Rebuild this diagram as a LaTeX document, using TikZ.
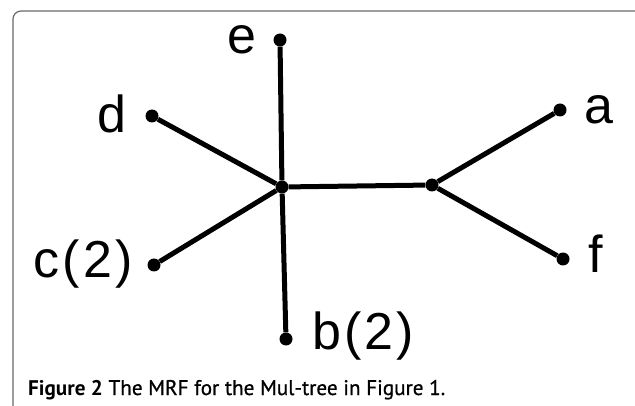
\documentclass[tikz,border=0pt]{standalone}
\usepackage{fontspec}
\usepackage{graphicx}
\setmainfont{Liberation Sans}
\newfontfamily\lblfont[LetterSpace=6]{Liberation Sans}
\newfontfamily\capfont{PT Sans}
\newfontfamily\capsemi[FakeBold=0.8]{PT Sans}
\definecolor{framegray}{RGB}{105,105,105}
\begin{document}
\begin{tikzpicture}[x=1pt,y=-1pt,
  vertex/.style={circle,fill=black,inner sep=0pt,minimum size=13pt},
  taxon/.style={font=\lblfont\fontsize{52}{52}\selectfont,inner sep=0pt},
  caption/.style={font=\capfont,inner sep=0pt,anchor=base west},
  edge/.style={line width=5pt}]
  \useasboundingbox (0,0) rectangle (635,406);
  \fill[white] (0,0) rectangle (635,406);
  \draw[framegray,line width=1.2pt,rounded corners=8pt] (13,406) -- (13,11) -- (635,11);
  % inner vertices
  \node[vertex] (u) at (282,187) {};
  \node[vertex] (v) at (432,185) {};
  % leaves
  \node[vertex] (e) at (280,40) {};
  \node[vertex] (d) at (152,116) {};
  \node[vertex] (c) at (154,265) {};
  \node[vertex] (b) at (286,339) {};
  \node[vertex] (a) at (560,110) {};
  \node[vertex] (f) at (563,259) {};
  \foreach \leaf in {e,d,c,b}
    {
     \draw[edge] (u) -- (\leaf);
    }
  \draw[edge] (u) -- (v);
  \foreach \leaf in {a,f}
    {
     \draw[edge] (v) -- (\leaf);
    }
  % labels
  \node[taxon] (le) at (242,40) {e};
  \node[taxon] (ld) at (112,114) {d};
  \node[taxon] (lc) at (83,264) {c(2)};
  \node[taxon] (lb) at (363,336) {b(2)};
  \node[taxon] (la) at (599,110) {a};
  \node[taxon] (lf) at (596,254) {f};
  \node[caption] (cap) at (28,395)
    {\resizebox{417pt}{!}{\textbf{Figure 2} {\capsemi The MRF for the Mul-tree in Figure 1.}}};
\end{tikzpicture}
\end{document}
